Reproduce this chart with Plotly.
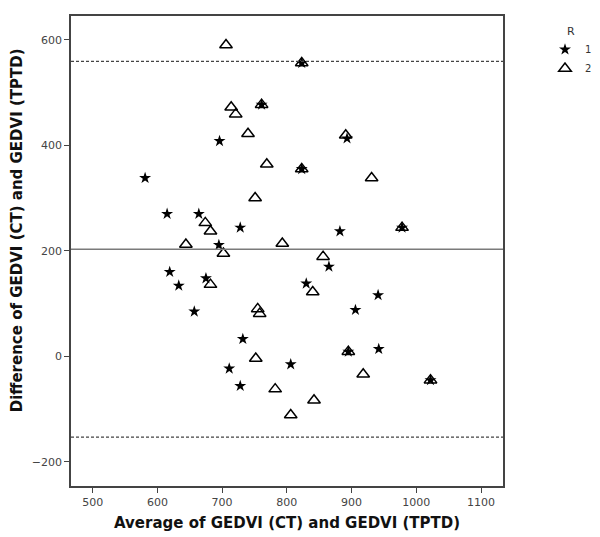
import plotly.graph_objects as go

# Group R = 1 (stars)
r1_avg = [696, 581, 615, 664, 728, 695, 619, 633, 675, 657, 732, 711, 806, 728,
          830, 865, 941, 906, 942, 882, 893, 823, 761, 823, 978, 895, 1022]
r1_diff = [408, 338, 270, 270, 244, 211, 160, 134, 148, 85, 33, -23, -15, -56,
           138, 170, 116, 88, 14, 237, 413, 556, 477, 355, 244, 9, -45]

# Group R = 2 (triangles)
r2_avg = [706, 823, 714, 721, 761, 740, 769, 823, 751, 674, 682, 644, 793, 702,
          682, 755, 758, 752, 782, 806, 891, 931, 978, 856, 840, 895, 918, 1022, 842]
r2_diff = [590, 556, 472, 459, 477, 422, 364, 355, 300, 253, 237, 212, 214, 195,
           136, 90, 81, -4, -62, -111, 419, 338, 244, 189, 122, 9, -34, -45, -83]

mean_diff = 203
upper_loa = 559
lower_loa = -153

x_ticks = [500, 600, 700, 800, 900, 1000, 1100]
y_ticks = [-200, 0, 200, 400, 600]

x_title = "Average of GEDVI (CT) and GEDVI (TPTD)"
y_title = "Difference of GEDVI (CT) and GEDVI (TPTD)"

fig = go.Figure()

fig.add_trace(go.Scatter(
    x=r1_avg, y=r1_diff, mode="markers", name="1",
    marker=dict(symbol="star", size=9, color="black", line=dict(width=0)),
))
fig.add_trace(go.Scatter(
    x=r2_avg, y=r2_diff, mode="markers", name="2",
    marker=dict(symbol="triangle-up-open", size=11, color="black", line=dict(width=1.5)),
))

fig.add_hline(y=mean_diff, line=dict(color="#7a7a7a", width=1.5))
fig.add_hline(y=upper_loa, line=dict(color="#444444", width=1.2, dash="3px,2px"))
fig.add_hline(y=lower_loa, line=dict(color="#444444", width=1.2, dash="3px,2px"))

fig.add_annotation(
    text="<b>" + x_title + "</b>", xref="paper", yref="paper",
    x=0.5, y=-(523 - 485.7) / 470, xanchor="center", yanchor="middle",
    showarrow=False, font=dict(size=15, color="#111111"),
)
fig.add_annotation(
    text="<b>" + y_title + "</b>", xref="paper", yref="paper",
    x=(17 - 71) / 432, y=1 - (230 - 15.7) / 470, xanchor="center", yanchor="middle",
    textangle=-90, showarrow=False, font=dict(size=15, color="#111111"),
)

fig.update_layout(
    width=600, height=537,
    margin=dict(l=71, r=97, t=16, b=51, autoexpand=False),
    paper_bgcolor="white", plot_bgcolor="white",
    font=dict(family="DejaVu Sans", color="#333333", size=11),
    legend=dict(
        title=dict(text="R", font=dict(size=11, color="#333333"), side="top center"),
        x=(545 - 71) / 432, xanchor="left", y=0.99, yanchor="top",
        font=dict(size=10, color="#333333"),
        itemwidth=30, tracegroupgap=0,
        bgcolor="rgba(0,0,0,0)",
    ),
    showlegend=True,
)

fig.update_xaxes(
    range=[466.5, 1134], tickvals=x_ticks, ticks="outside", ticklen=5,
    tickcolor="#444444", showgrid=False, zeroline=False, automargin=False,
    showline=True, linecolor="#444444", linewidth=1.5, mirror=True,
    tickfont=dict(size=11, color="#444444"),
)
fig.update_yaxes(
    range=[-245.6, 645], tickvals=y_ticks, ticks="outside", ticklen=5,
    tickcolor="#444444", showgrid=False, zeroline=False, automargin=False,
    showline=True, linecolor="#444444", linewidth=1.5, mirror=True,
    tickfont=dict(size=11, color="#444444"),
)

fig.write_html(
    "out.html",
    config={"displayModeBar": False},
    post_script="document.body.style.margin='0';document.body.style.overflow='hidden';",
)
